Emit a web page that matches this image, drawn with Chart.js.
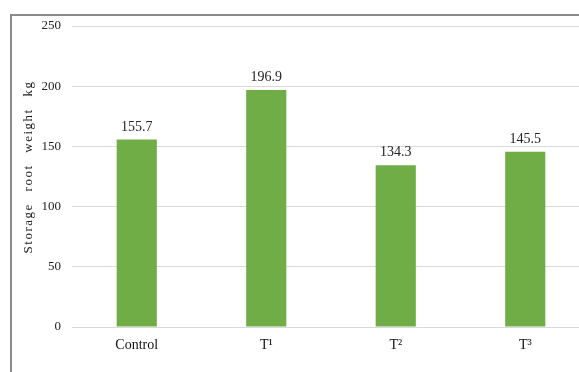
<!DOCTYPE html>
<html>
<head>
<meta charset="utf-8">
<script src="https://cdn.jsdelivr.net/npm/chart.js@4/dist/chart.umd.min.js"></script>
<style>
  html, body { margin: 0; padding: 0; background: #fff; overflow: hidden; }
  #wrap { position: relative; width: 579px; height: 372px; overflow: hidden; }
  #frame { position: absolute; left: 10px; top: 14px; width: 700px; height: 500px;
           border-left: 2px solid #8a8a8a; border-top: 2px solid #8a8a8a; }
  #box { position: absolute; left: 0; top: 0; width: 600px; height: 372px; }
</style>
</head>
<body>
<div id="wrap">
  <div id="frame"></div>
  <div id="box"><canvas id="c" width="600" height="372"></canvas></div>
</div>
<script>
// Treatments and measured storage root weights
const categories = ['Control', 'T\u00B9', 'T\u00B2', 'T\u00B3'];
const rootWeight = [155.7, 196.9, 134.3, 145.5];
const yTicks = [0, 50, 100, 150, 200, 250];
const yTitle = 'Storage root weight kg';

const serif = "'Liberation Serif', 'Times New Roman', serif";

// Value labels above each bar
const valueLabels = {
  id: 'valueLabels',
  afterDatasetsDraw(chart) {
    const ctx = chart.ctx;
    const meta = chart.getDatasetMeta(0);
    ctx.save();
    ctx.font = '14px ' + serif;
    ctx.fillStyle = '#222';
    ctx.textAlign = 'center';
    ctx.textBaseline = 'alphabetic';
    meta.data.forEach((bar, i) => {
      ctx.fillText(rootWeight[i].toFixed(1), bar.x, bar.y - 9);
    });
    ctx.restore();
  }
};

// Rotated, letter-spaced y-axis title
const spacedTitle = {
  id: 'spacedTitle',
  afterDraw(chart) {
    const ctx = chart.ctx;
    ctx.save();
    ctx.font = '13px ' + serif;
    ctx.fillStyle = '#222';
    ctx.letterSpacing = '1.5px';
    ctx.wordSpacing = '7px';
    ctx.textAlign = 'center';
    ctx.textBaseline = 'middle';
    ctx.translate(29, 167);
    ctx.rotate(-Math.PI / 2);
    ctx.fillText(yTitle, 0, 0);
    ctx.restore();
  }
};

new Chart(document.getElementById('c'), {
  type: 'bar',
  data: {
    labels: categories,
    datasets: [{
      data: rootWeight,
      backgroundColor: '#70AD47',
      borderWidth: 0,
      categoryPercentage: 1,
      barPercentage: 0.31
    }]
  },
  options: {
    responsive: false,
    animation: false,
    devicePixelRatio: 1,
    layout: { padding: { top: 26, right: 10, bottom: 0, left: 0 } },
    plugins: { legend: { display: false }, tooltip: { enabled: false } },
    scales: {
      x: {
        grid: { display: false, drawTicks: false },
        border: { display: true, color: '#d9d9d9', width: 1 },
        ticks: { color: '#111', padding: 10, font: { family: serif, size: 14 } },
        afterFit(scale) { scale.height = 45; }
      },
      y: {
        min: 0,
        max: 250,
        afterBuildTicks(scale) { scale.ticks = yTicks.map(v => ({ value: v })); },
        grid: { color: '#d9d9d9', lineWidth: 1, drawTicks: false },
        border: { display: false },
        ticks: { color: '#222', padding: 11, font: { family: serif, size: 13 } },
        afterFit(scale) { scale.width = 72; }
      }
    }
  },
  plugins: [valueLabels, spacedTitle]
});
</script>
</body>
</html>
